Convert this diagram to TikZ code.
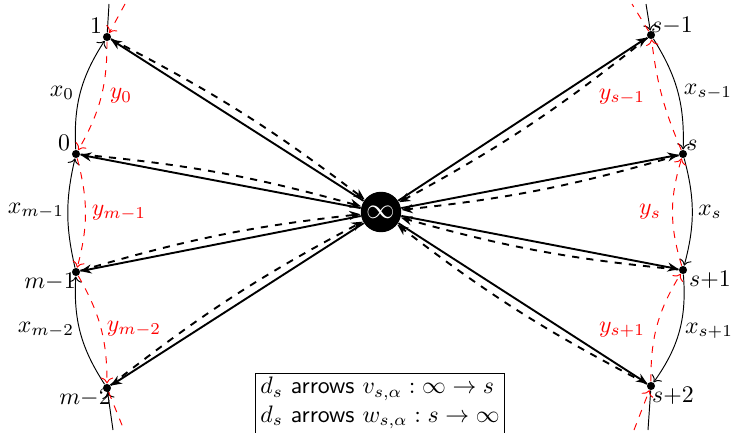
\documentclass[tikz,border=0pt]{standalone}
\usepackage{xcolor}
\usepackage{tikz}
\usetikzlibrary{arrows.meta}

\begin{document}
\begin{tikzpicture}[
    x=0.42pt,
    y=-0.42pt,
    vertex/.style={
        circle,
        fill=black,
        inner sep=0pt,
        minimum size=3.4pt
    },
    hub/.style={
        circle,
        fill=black,
        text=white,
        inner sep=0pt,
        minimum size=17pt,
        font=\large
    },
    xarc/.style={
        ->
    },
    xline/.style={
        -
    },
    yarc/.style={
        ->,
        red,
        dashed
    },
    yline/.style={
        red,
        dashed
    },
    vline/.style={
        -{Stealth[length=4.6pt,width=3.8pt]},
        thick
    },
    wline/.style={
        -{Stealth[length=4.6pt,width=3.8pt]},
        thick,
        dashed
    },
    legendbox/.style={
        draw,
        align=left,
        inner xsep=2pt,
        inner ysep=1.5pt
    }
]

\useasboundingbox (0,0) rectangle (733,433);

% Left column
\node[vertex] (v1) at (107,37) {};
\node[vertex] (v0) at (76,154) {};
\node[vertex] (vm1) at (76,272) {};
\node[vertex] (vm2) at (107,388) {};

% Right column
\node[vertex] (vs1) at (651,35) {};
\node[vertex] (vs) at (683,154) {};
\node[vertex] (vsp1) at (683,270) {};
\node[vertex] (vsp2) at (651,386) {};

% Centre
\node[hub] (inf) at (381,212) {$\infty$};

% Vertex labels
\node (lab1) at (96,26) {$1$};
\node (lab0) at (64,143) {$0$};
\node (labm1) at (50,282) {$m{-}1$};
\node (labm2) at (85,398) {$m{-}2$};
\node (labs1) at (672,26) {$s{-}1$};
\node (labs) at (692,145) {$s$};
\node (labsp1) at (710,280) {$s{+}1$};
\node (labsp2) at (673,396) {$s{+}2$};

% Arc labels
\node (x0) at (62,93) {$x_0$};
\node (xm1) at (36,211) {$x_{m-1}$};
\node (xm2) at (46,330) {$x_{m-2}$};
\node (xs1) at (708,92) {$x_{s-1}$};
\node (xs) at (710,212) {$x_s$};
\node (xsp1) at (709,331) {$x_{s+1}$};
\node[red] (y0) at (121,96) {$y_0$};
\node[red] (ym1) at (119,213) {$y_{m-1}$};
\node[red] (ym2) at (134,329) {$y_{m-2}$};
\node[red] (ys1) at (622,97) {$y_{s-1}$};
\node[red] (ys) at (650,212) {$y_s$};
\node[red] (ysp1) at (622,330) {$y_{s+1}$};

% Loose ends of the arcs
\coordinate (leftTopX) at (109,4);
\coordinate (leftTopY) at (125,4);
\coordinate (leftBotX) at (113,430);
\coordinate (leftBotY) at (124,430);
\coordinate (rightTopX) at (646,4);
\coordinate (rightTopY) at (632,4);
\coordinate (rightBotX) at (648,430);
\coordinate (rightBotY) at (634,430);

% Left arcs
\draw[xline] (v1) -- (leftTopX);
\draw[xarc] (v0) to[bend left=18] (v1);
\draw[xarc] (vm1) to[bend left=13] (v0);
\draw[xarc] (vm2) to[bend left=18] (vm1);
\draw[xarc] (leftBotX) -- (vm2);

\draw[yarc] (leftTopY) -- (v1);
\draw[yarc] (v1) to[bend left=15] (v0);
\draw[yarc] (v0) to[bend left=15] (vm1);
\draw[yarc] (vm1) to[bend left=15] (vm2);
\draw[yline] (vm2) -- (leftBotY);

% Right arcs
\draw[xarc] (rightTopX) -- (vs1);
\draw[xarc] (vs1) to[bend left=17] (vs);
\draw[xarc] (vs) to[bend left=15] (vsp1);
\draw[xarc] (vsp1) to[bend left=20] (vsp2);
\draw[xline] (vsp2) -- (rightBotX);

\draw[yarc] (rightBotY) -- (vsp2);
\draw[yarc] (vsp2) to[bend left=16] (vsp1);
\draw[yarc] (vsp1) to[bend left=17] (vs);
\draw[yarc] (vs) to[bend left=8] (vs1);
\draw[yline] (vs1) -- (rightTopY);

% Arrows v from infinity
\draw[vline] (inf) -- (v1);
\draw[vline] (inf) -- (v0);
\draw[vline] (inf) -- (vm1);
\draw[vline] (inf) -- (vm2);
\draw[vline] (inf) -- (vs1);
\draw[vline] (inf) -- (vs);
\draw[vline] (inf) -- (vsp1);
\draw[vline] (inf) -- (vsp2);

% Arrows w into infinity
\draw[wline] (v1) to[bend left=5] (inf);
\draw[wline] (v0) to[bend left=5] (inf);
\draw[wline] (vm1) to[bend left=5] (inf);
\draw[wline] (vm2) to[bend left=5] (inf);
\draw[wline] (vs1) to[bend left=5] (inf);
\draw[wline] (vs) to[bend left=5] (inf);
\draw[wline] (vsp1) to[bend left=5] (inf);
\draw[wline] (vsp2) to[bend left=5] (inf);

% Legend
\node[legendbox, anchor=north] (legend) at (380,373) {
    $d_s$ \textsf{arrows} $v_{s,\alpha}:\infty\to s$\\
    $d_s$ \textsf{arrows} $w_{s,\alpha}:s\to\infty$\rule[-14pt]{0pt}{0pt}
};

\end{tikzpicture}
\end{document}
